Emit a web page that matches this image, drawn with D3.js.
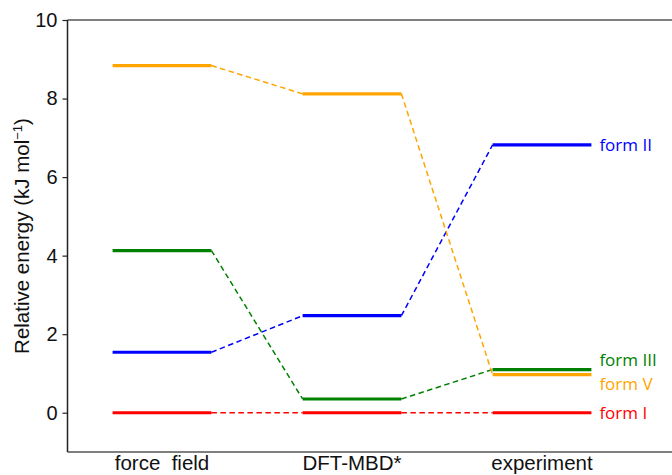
<!DOCTYPE html>
<html>
<head>
<meta charset="utf-8">
<script src="https://cdn.jsdelivr.net/npm/d3@7"></script>
<style>
  html, body { margin: 0; padding: 0; background: #fff; }
  svg { display: block; }
</style>
</head>
<body>
<svg id="chart" width="672" height="475"></svg>
<script>
// Methods compared (x categories)
const methods = ["force  field", "DFT-MBD*", "experiment"];

// Polymorph names and colours
const forms = ["form I", "form II", "form III", "form V"];
const formColors = ["#ff0000", "#0000ff", "#008000", "#ffa500"];

// Relative energies (kJ/mol) per form, one value per method
const formI   = [0.00, 0.00, 0.00];
const formII  = [1.54, 2.47, 6.82];
const formIII = [4.13, 0.35, 1.10];
const formV   = [8.84, 8.12, 0.97];

// Label nudges so the close experiment values stay readable (px)
const labelNudge = [0, 0, -9, 9];

const yTicks = [0, 2, 4, 6, 8, 10];

const series = [formI, formII, formIII, formV].map((vals, i) => ({
  name: forms[i], color: formColors[i], values: vals, nudge: labelNudge[i]
}));

const svg = d3.select("#chart");
const plot = { left: 67.5, top: 20, right: 700, bottom: 452 };

const x = d3.scalePoint().domain(methods).range([162, 542]);
const y = d3.scaleLinear().domain([-1, 10]).range([plot.bottom, plot.top]);
const halfW = x.step() * 0.26;

// Spines
svg.append("line")
  .attr("x1", plot.left).attr("x2", plot.right)
  .attr("y1", plot.top).attr("y2", plot.top)
  .attr("stroke", "#555").attr("stroke-width", 1.5);
svg.append("line")
  .attr("x1", plot.left).attr("x2", plot.right)
  .attr("y1", plot.bottom).attr("y2", plot.bottom)
  .attr("stroke", "#555").attr("stroke-width", 1.5);

// Y axis
const yAxis = svg.append("g")
  .attr("transform", `translate(${plot.left},0)`)
  .call(d3.axisLeft(y).tickValues(yTicks).tickSize(5).tickPadding(5).tickFormat(d3.format("d")));
yAxis.select(".domain").attr("stroke", "#222").attr("stroke-width", 1.5)
  .attr("d", `M0,${plot.top}V${plot.bottom}`);
yAxis.selectAll(".tick line").attr("stroke", "#222").attr("stroke-width", 1.2);
yAxis.selectAll(".tick text")
  .attr("font-family", "Liberation Sans, Arial, sans-serif")
  .attr("font-size", 20).attr("fill", "#111");

// Y axis title
svg.append("text")
  .attr("transform", `translate(29,${(plot.top + plot.bottom) / 2}) rotate(-90)`)
  .attr("text-anchor", "middle")
  .attr("font-family", "Liberation Sans, Arial, sans-serif")
  .attr("font-size", 20.5).attr("fill", "#111")
  .text("Relative energy (kJ mol")
  .append("tspan").attr("baseline-shift", "super").attr("font-size", 13).text("−1")
  .select(function () { return this.parentNode; })
  .append("tspan").text(")");

// X category labels
svg.selectAll(".xlab").data(methods).enter().append("text")
  .attr("class", "xlab")
  .attr("x", d => x(d)).attr("y", 470)
  .attr("text-anchor", "middle")
  .attr("font-family", "Liberation Sans, Arial, sans-serif")
  .attr("font-size", 20.5).attr("fill", "#111")
  .style("white-space", "pre")
  .text(d => d);

// Dashed connectors between consecutive levels
series.forEach(s => {
  for (let i = 0; i < methods.length - 1; i++) {
    svg.append("line")
      .attr("x1", x(methods[i]) + halfW).attr("y1", y(s.values[i]))
      .attr("x2", x(methods[i + 1]) - halfW).attr("y2", y(s.values[i + 1]))
      .attr("stroke", s.color).attr("stroke-width", 1.5)
      .attr("stroke-dasharray", "5.5,3.5");
  }
});

// Energy levels
series.forEach(s => {
  svg.selectAll(null).data(s.values).enter().append("line")
    .attr("x1", (d, i) => x(methods[i]) - halfW)
    .attr("x2", (d, i) => x(methods[i]) + halfW)
    .attr("y1", d => y(d)).attr("y2", d => y(d))
    .attr("stroke", s.color).attr("stroke-width", 3.2);
});

// Form labels at the right of the last level
series.forEach(s => {
  const last = s.values[s.values.length - 1];
  svg.append("text")
    .attr("x", x(methods[methods.length - 1]) + halfW + 8)
    .attr("y", y(last) + s.nudge)
    .attr("dy", "0.35em")
    .attr("font-family", "Open Sans, DejaVu Sans, sans-serif")
    .attr("font-size", 17).attr("fill", s.color)
    .text(s.name);
});
</script>
</body>
</html>
